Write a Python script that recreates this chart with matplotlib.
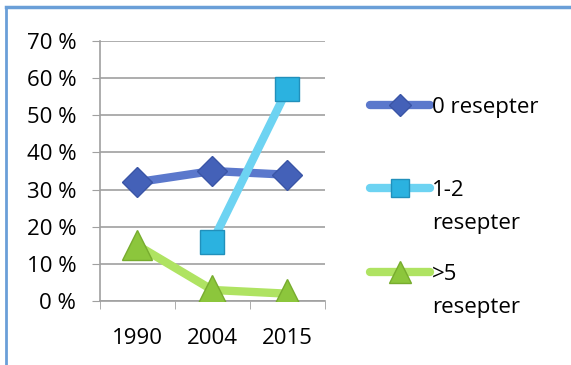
import matplotlib
matplotlib.use('Agg')
import matplotlib.pyplot as plt
from matplotlib.lines import Line2D

years = ['1990', '2004', '2015']
null_resepter = [32, 35, 34]
en_to_resepter = [None, 16, 57]
over_fem = [15, 3, 2]

labels = ['0 resepter', '1-2\nresepter', '>5\nresepter']
yticks = [0, 10, 20, 30, 40, 50, 60, 70]

plt.rcParams['font.family'] = ['Open Sans', 'DejaVu Sans']

fig = plt.figure(figsize=(5.71, 3.65), dpi=100)
ax = fig.add_axes([0.175, 0.175, 0.394, 0.713])

x = [0, 1, 2]
styles = [
    dict(color='#5b78cc', marker='D', ms=15, mfc='#4461b8', mec='#3a55a6'),
    dict(color='#6dd3f2', marker='s', ms=17, mfc='#2bb2e0', mec='#2190bb'),
    dict(color='#afe362', marker='^', ms=22, mfc='#8cc63c', mec='#77ac2e'),
]
series = [null_resepter, en_to_resepter, over_fem]

for vals, st in zip(series, styles):
    xs = [xi for xi, v in zip(x, vals) if v is not None]
    vs = [v for v in vals if v is not None]
    ax.plot(xs, vs, lw=6, solid_capstyle='round', mew=1, zorder=3, **st)

ax.set_xlim(-0.5, 2.5)
ax.set_ylim(0, 70)
ax.set_yticks(yticks)
ax.set_yticklabels([f'{t} %' for t in yticks], fontsize=16)
ax.set_xticks(x)
ax.set_xticklabels(years, fontsize=16)
ax.set_xticks([-0.5, 0.5, 1.5, 2.5], minor=True)
ax.tick_params(axis='x', which='major', length=0, pad=19)
ax.tick_params(axis='x', which='minor', length=6, color='#a0a0a0')
ax.tick_params(axis='y', length=6, color='#a0a0a0', pad=11)
ax.grid(axis='y', color='#a0a0a0', lw=1.2)
ax.set_axisbelow(True)
for s in ['top', 'right']:
    ax.spines[s].set_visible(False)
ax.spines['left'].set_color('#a0a0a0')
ax.spines['bottom'].set_color('#a0a0a0')
ax.spines['left'].set_linewidth(1.2)
ax.spines['bottom'].set_linewidth(1.2)

# legend drawn by hand so the marker sits on the first text line
W, H = 571, 365
ys = [105, 188, 272]
for st, lab, yy in zip(styles, labels, ys):
    yf = 1 - yy / H
    fig.add_artist(Line2D([370 / W, 430 / W], [yf, yf], lw=6, color=st['color'],
                          solid_capstyle='round', transform=fig.transFigure))
    fig.add_artist(Line2D([400 / W], [yf], marker=st['marker'], ms=st['ms'] * 0.75,
                          mfc=st['mfc'], mec=st['mec'], lw=0, transform=fig.transFigure))
    fig.text(432 / W, yf + 8 / H, lab, fontsize=16, va='top', ha='left',
             linespacing=1.75)

# frame border on the left and top
fig.add_artist(Line2D([6 / W, 6 / W], [0, 1 - 6.5 / H], color='#6a9fd8', lw=2,
                      transform=fig.transFigure))
fig.add_artist(Line2D([6 / W, 1], [1 - 6.5 / H, 1 - 6.5 / H], color='#6a9fd8', lw=2.5,
                      transform=fig.transFigure))

fig.savefig('out.png', dpi=100)
